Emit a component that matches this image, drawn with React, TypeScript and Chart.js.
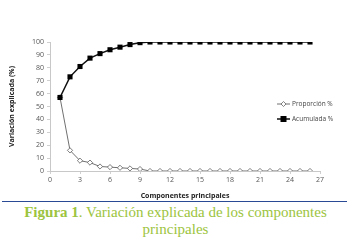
import React, { useEffect, useRef } from "react";
import { Chart, registerables } from "chart.js";

Chart.register(...registerables);

const components = [1, 2, 3, 4, 5, 6, 7, 8, 9, 10, 11, 12, 13, 14, 15, 16, 17, 18, 19, 20, 21, 22, 23, 24, 25, 26];
const proporcion = [57, 16, 8, 6.5, 3.5, 3, 2.5, 2, 1.5, 0, 0, 0, 0, 0, 0, 0, 0, 0, 0, 0, 0, 0, 0, 0, 0, 0];
const acumulada = [57, 73, 81, 87.5, 91, 94, 96, 98, 99.5, 100, 100, 100, 100, 100, 100, 100, 100, 100, 100, 100, 100, 100, 100, 100, 100, 100];
const seriesNames = ["Proporción %", "Acumulada %"];
const xTitle = "Componentes principales";
const yTitle = "Variación explicada (%)";

const FONT = "'Open Sans', 'Liberation Sans', sans-serif";

const legendPlugin = {
  id: "customLegend",
  afterDraw(chart: any) {
    const ctx = chart.ctx;
    const x0 = 277;
    const ys = [104, 119];
    ctx.save();
    ctx.font = `6.5px ${FONT}`;
    ctx.textBaseline = "middle";
    chart.data.datasets.forEach((ds: any, i: number) => {
      const y = ys[i];
      ctx.strokeStyle = ds.borderColor;
      ctx.lineWidth = ds.borderWidth;
      ctx.beginPath();
      ctx.moveTo(x0, y);
      ctx.lineTo(x0 + 13, y);
      ctx.stroke();
      const cx = x0 + 6.5;
      if (ds.pointStyle === "rect") {
        ctx.fillStyle = "#000";
        ctx.fillRect(cx - 3, y - 3, 6, 6);
      } else {
        ctx.fillStyle = "#fff";
        ctx.strokeStyle = "#666";
        ctx.lineWidth = 0.8;
        ctx.beginPath();
        ctx.moveTo(cx, y - 2.5);
        ctx.lineTo(cx + 2.5, y);
        ctx.lineTo(cx, y + 2.5);
        ctx.lineTo(cx - 2.5, y);
        ctx.closePath();
        ctx.fill();
        ctx.stroke();
      }
      ctx.fillStyle = "#444";
      ctx.fillText(ds.label, x0 + 15, y);
    });
    ctx.restore();
  },
};

function ChartBox() {
  const ref = useRef<HTMLCanvasElement>(null);
  useEffect(() => {
    if (!ref.current) return;
    const chart = new Chart(ref.current, {
      type: "line",
      data: {
        datasets: [
          {
            label: seriesNames[0],
            data: components.map((c, i) => ({ x: c, y: proporcion[i] })),
            borderColor: "#707070",
            borderWidth: 1,
            pointStyle: "rectRot",
            pointRadius: 2.6,
            pointBackgroundColor: "#fff",
            pointBorderColor: "#606060",
            pointBorderWidth: 0.8,
            tension: 0,
            order: 1,
          },
          {
            label: seriesNames[1],
            data: components.map((c, i) => ({ x: c, y: acumulada[i] })),
            borderColor: "#111",
            borderWidth: 1.5,
            pointStyle: "rect",
            pointRadius: 3.6,
            pointBackgroundColor: "#000",
            pointBorderColor: "#000",
            pointBorderWidth: 0,
            tension: 0,
            order: 0,
          },
        ],
      },
      options: {
        animation: false,
        responsive: false,
        maintainAspectRatio: false,
        layout: { padding: { left: 8, top: 42, right: 31, bottom: 0 } },
        plugins: { legend: { display: false }, tooltip: { enabled: false } },
        scales: {
          x: {
            type: "linear",
            min: 0,
            max: 27,
            afterFit: (s: any) => { s.height = 29; },
            afterBuildTicks: (s: any) => {
              s.ticks = [0, 3, 6, 9, 12, 15, 18, 21, 24, 27].map((v) => ({ value: v }));
            },
            grid: { display: true, drawOnChartArea: false, drawTicks: true, tickLength: 3, color: "#d0d0d0" },
            border: { color: "#c8c8c8", width: 1 },
            ticks: { font: { family: FONT, size: 7 }, color: "#555", padding: 2, maxRotation: 0 },
            title: { display: true, text: xTitle, font: { family: FONT, size: 7, weight: "bold" }, color: "#222", padding: { top: 1, bottom: 0 } },
          },
          y: {
            min: 0,
            max: 100,
            afterFit: (s: any) => { s.width = 42; },
            ticks: { stepSize: 10, font: { family: FONT, size: 7 }, color: "#555", padding: 3 },
            grid: { display: true, drawOnChartArea: false, drawTicks: true, tickLength: 3, color: "#d0d0d0" },
            border: { color: "#c8c8c8", width: 1 },
            title: { display: true, text: yTitle, font: { family: FONT, size: 7, weight: "bold" }, color: "#222", padding: { top: 0, bottom: 2 } },
          },
        },
      },
      plugins: [legendPlugin],
    } as any);
    return () => chart.destroy();
  }, []);
  return <canvas ref={ref} width={351} height={200} style={{ display: "block" }} />;
}

export default function App() {
  return (
    <div style={{ position: "fixed", left: 0, top: 0, width: 351, height: 246, background: "#fff", overflow: "hidden" }}>
      <ChartBox />
      <div style={{ position: "absolute", left: 2, top: 201, width: 345, height: 0, borderTop: "1.5px solid #2a4a96" }} />
      <div
        style={{
          position: "absolute",
          left: 0,
          top: 204,
          width: 351,
          textAlign: "center",
          fontFamily: "'Liberation Serif', 'DejaVu Serif', serif",
          fontSize: 15,
          lineHeight: "17px",
          color: "#9cc43e",
        }}
      >
        <b>Figura 1</b>. Variación explicada de los componentes
        <br />
        principales
      </div>
    </div>
  );
}
